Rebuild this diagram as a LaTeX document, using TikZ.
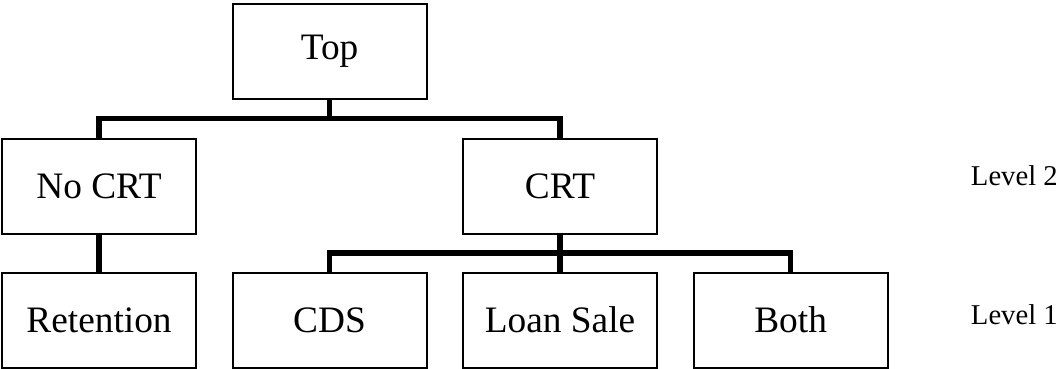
\documentclass[tikz,border=0pt]{standalone}
\usepackage{fontspec}
\setmainfont{Liberation Serif}
\usetikzlibrary{calc, positioning}

\begin{document}
\begin{tikzpicture}[x=0.75pt, y=-0.75pt, node distance = 27.75pt and 25.9pt]
	\tikzstyle{box}=[draw=black, rectangle, line width=1.5pt, minimum width=145.5pt, minimum height=71.25pt, inner sep=0pt, font=\fontsize{28}{32}\selectfont]
	\tikzstyle{conn}=[draw=black, line width=4.2pt]
	\tikzstyle{lvl}=[inner sep=0pt, anchor=east, font=\fontsize{21.5}{24}\selectfont]
	\useasboundingbox (0,0) rectangle (1059,368);
	% level 1
	\node[box] (retention) at (99,320) {Retention};
	\node[box] (cds) [right=of retention] {CDS};
	\node[box] (loansale) [right=of cds] {Loan Sale};
	\node[box] (both) [right=of loansale] {Both};
	% level 2
	\node[box] (nocrt) [above=of retention] {No CRT};
	\node[box] (crt) [above=of loansale] {CRT};
	% top, over CDS
	\coordinate (top-foot) at ($(cds.north |- nocrt.north) + (0,-1)$);
	\node[box] (top) [above=of top-foot] {Top};
	% labels on the right
	\node[lvl] (level2) at (1058,176) {Level 2};
	\node[lvl] (level1) at (1058,315) {Level 1};
	% connectors
	\coordinate (split-top) at ($(top.south)!0.5!(top.south |- crt.north)$);
	\coordinate (split-crt) at ($(crt.south)!0.5!(crt.south |- both.north)$);
	\draw[conn] (top.south) -- (split-top) -| (nocrt.north);
	\draw[conn] (split-top) -| (crt.north);
	\draw[conn] (nocrt.south) -- (retention.north);
	\draw[conn] (crt.south) -- (loansale.north);
	\draw[conn] (split-crt) -| (cds.north);
	\draw[conn] (split-crt) -| (both.north);
\end{tikzpicture}
\end{document}
